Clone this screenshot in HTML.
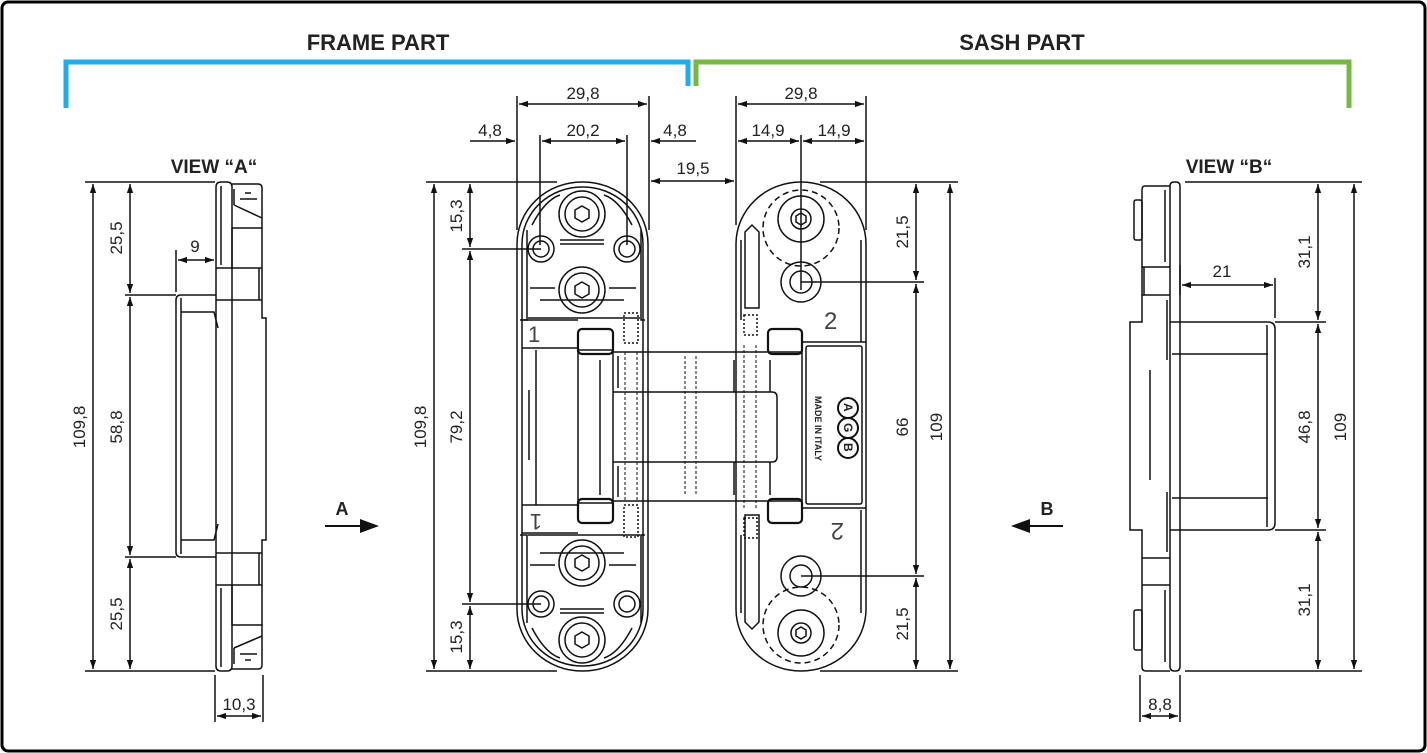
<!DOCTYPE html>
<html><head><meta charset="utf-8"><style>
html,body{margin:0;padding:0;background:#fff}
svg{display:block}
text{font-family:"Liberation Sans",Arial,sans-serif;fill:#222}
</style></head><body>
<svg width="1427" height="753" viewBox="0 0 1427 753" xmlns="http://www.w3.org/2000/svg">
<defs>
<marker id="a" viewBox="0 0 10 10" refX="10" refY="5" markerWidth="9" markerHeight="9" markerUnits="userSpaceOnUse" orient="auto-start-reverse"><path d="M0,1.5L10,5L0,8.5z" fill="#111"/></marker>
</defs>
<rect x="2" y="2" width="1423" height="749" rx="6" fill="#fff" stroke="#000" stroke-width="3"/>

<path d="M66,108V62H688V86" fill="none" stroke="#1eaee9" stroke-width="5"/>
<path d="M696,86V62H1349V108" fill="none" stroke="#76b843" stroke-width="5"/>
<text x="378" y="50" font-size="22" font-weight="bold" text-anchor="middle">FRAME PART</text>
<text x="1022" y="50" font-size="22" font-weight="bold" text-anchor="middle">SASH PART</text>

<g stroke="#111" stroke-width="1.5" fill="none">
<!-- VIEW A -->
<line x1="85" y1="182" x2="215" y2="182"/>
<line x1="85" y1="671" x2="215" y2="671"/>
<line x1="125" y1="295" x2="176" y2="295"/>
<line x1="125" y1="557" x2="176" y2="557"/>
<line x1="93" y1="184" x2="93" y2="669" marker-start="url(#a)" marker-end="url(#a)"/>
<line x1="130" y1="184" x2="130" y2="293" marker-start="url(#a)" marker-end="url(#a)"/>
<line x1="130" y1="297" x2="130" y2="555" marker-start="url(#a)" marker-end="url(#a)"/>
<line x1="130" y1="559" x2="130" y2="669" marker-start="url(#a)" marker-end="url(#a)"/>
<line x1="176" y1="250" x2="176" y2="292"/>
<line x1="178" y1="260" x2="214" y2="260" marker-start="url(#a)" marker-end="url(#a)"/>
<line x1="215" y1="675" x2="215" y2="722"/>
<line x1="263" y1="675" x2="263" y2="722"/>
<line x1="217" y1="716" x2="261" y2="716" marker-start="url(#a)" marker-end="url(#a)"/>
<path d="M216,187Q216,182 221,182H227Q232,182 232,187V666Q232,671 227,671H221Q216,671 216,666Z"/>
<line x1="221" y1="186" x2="221" y2="265"/><line x1="221" y1="588" x2="221" y2="667"/>
<path d="M232,184H258Q262,184 262,188V228H232"/>
<line x1="234" y1="189" x2="234" y2="205"/><path d="M234,205L262,218"/><line x1="240" y1="199" x2="257" y2="199"/><line x1="245" y1="193" x2="251" y2="193"/>
<line x1="232" y1="228" x2="232" y2="268"/><line x1="262" y1="228" x2="262" y2="268"/>
<path d="M216,268H262V318H266V540H262V585H216"/>
<line x1="216" y1="300" x2="262" y2="300"/><line x1="216" y1="553" x2="262" y2="553"/>
<line x1="259" y1="268" x2="259" y2="300"/><line x1="259" y1="553" x2="259" y2="585"/>
<path d="M232,625H262V665Q262,669 258,669H232"/><line x1="232" y1="585" x2="232" y2="625"/><line x1="262" y1="585" x2="262" y2="625"/>
<line x1="234" y1="648" x2="234" y2="664"/><path d="M234,648L262,636"/><line x1="240" y1="654" x2="257" y2="654"/><line x1="245" y1="660" x2="251" y2="660"/>
<path d="M216,295H181Q176,295 176,300V552Q176,557 181,557H216"/>
<line x1="181" y1="298" x2="181" y2="554"/>
<path d="M181,312H214L218,328"/><path d="M181,540H214L218,524"/>

<!-- FRAME HINGE dims -->
<line x1="517" y1="96" x2="517" y2="230"/>
<line x1="649" y1="96" x2="649" y2="230"/>
<line x1="540" y1="135" x2="540" y2="245"/>
<line x1="627" y1="135" x2="627" y2="245"/>
<line x1="519" y1="104" x2="647" y2="104" marker-start="url(#a)" marker-end="url(#a)"/>
<line x1="470" y1="141" x2="515" y2="141" marker-end="url(#a)"/>
<line x1="542" y1="141" x2="625" y2="141" marker-start="url(#a)" marker-end="url(#a)"/>
<line x1="696" y1="141" x2="651" y2="141" marker-end="url(#a)"/>
<line x1="651" y1="181" x2="734" y2="181" marker-start="url(#a)" marker-end="url(#a)"/>
<line x1="736" y1="96" x2="736" y2="225"/>
<line x1="866" y1="96" x2="866" y2="230"/>
<line x1="801" y1="135" x2="801" y2="290"/>
<line x1="738" y1="104" x2="864" y2="104" marker-start="url(#a)" marker-end="url(#a)"/>
<line x1="738" y1="141" x2="799" y2="141" marker-start="url(#a)" marker-end="url(#a)"/>
<line x1="803" y1="141" x2="864" y2="141" marker-start="url(#a)" marker-end="url(#a)"/>
<line x1="426" y1="182" x2="557" y2="182"/>
<line x1="426" y1="671" x2="557" y2="671"/>
<line x1="462" y1="249" x2="541" y2="249"/>
<line x1="462" y1="604" x2="541" y2="604"/>
<line x1="434" y1="184" x2="434" y2="669" marker-start="url(#a)" marker-end="url(#a)"/>
<line x1="470" y1="184" x2="470" y2="247" marker-start="url(#a)" marker-end="url(#a)"/>
<line x1="470" y1="251" x2="470" y2="602" marker-start="url(#a)" marker-end="url(#a)"/>
<line x1="470" y1="606" x2="470" y2="669" marker-start="url(#a)" marker-end="url(#a)"/>
<line x1="820" y1="182" x2="958" y2="182"/>
<line x1="820" y1="671" x2="958" y2="671"/>
<line x1="801" y1="282" x2="924" y2="282"/>
<line x1="801" y1="576" x2="924" y2="576"/>
<line x1="916" y1="184" x2="916" y2="280" marker-start="url(#a)" marker-end="url(#a)"/>
<line x1="916" y1="284" x2="916" y2="574" marker-start="url(#a)" marker-end="url(#a)"/>
<line x1="916" y1="578" x2="916" y2="669" marker-start="url(#a)" marker-end="url(#a)"/>
<line x1="950" y1="184" x2="950" y2="669" marker-start="url(#a)" marker-end="url(#a)"/>

<!-- frame hinge body -->
<rect x="517" y="182" width="131" height="489" rx="65" ry="62"/>
<rect x="522" y="187" width="121" height="479" rx="60" ry="57"/>
<path d="M527,230V320H520M641,230V320H645"/>
<path d="M527,623V535H520M641,623V535H645"/>
<path d="M532,225Q545,200 560,195M632,225Q619,200 604,195"/>
<path d="M532,628Q545,653 560,658M632,628Q619,653 604,658"/>
<circle cx="541" cy="249" r="13"/><circle cx="541" cy="249" r="8"/>
<circle cx="627" cy="249" r="13"/><circle cx="627" cy="249" r="8"/>
<circle cx="541" cy="604" r="13"/><circle cx="541" cy="604" r="8"/>
<circle cx="627" cy="604" r="13"/><circle cx="627" cy="604" r="8"/>
<circle cx="582" cy="214" r="23"/><circle cx="582" cy="214" r="17"/><path d="M582,206l7,4v8l-7,4l-7,-4v-8z"/>
<circle cx="582" cy="290" r="23"/><circle cx="582" cy="290" r="17"/><path d="M582,282l7,4v8l-7,4l-7,-4v-8z"/>
<circle cx="582" cy="563" r="23"/><circle cx="582" cy="563" r="17"/><path d="M582,555l7,4v8l-7,4l-7,-4v-8z"/>
<circle cx="582" cy="640" r="23"/><circle cx="582" cy="640" r="17"/><path d="M582,632l7,4v8l-7,4l-7,-4v-8z"/>
<path d="M560,240H604M560,244H604M530,288H555M609,288H636M540,300H624M528,318H640"/>
<path d="M560,613H604M560,609H604M530,565H555M609,565H636M540,553H624M528,535H640"/>
<path d="M522,320H578M522,348H578M522,505H578M522,533H578"/>
<line x1="536" y1="350" x2="536" y2="505"/><line x1="529" y1="390" x2="529" y2="460"/>
<rect x="624" y="313" width="14" height="30" stroke-dasharray="2,2"/>
<rect x="624" y="505" width="14" height="32" stroke-dasharray="2,2"/>

<!-- central link -->
<rect x="578" y="329" width="35" height="25" rx="4" stroke-width="2.2"/>
<rect x="578" y="499" width="35" height="24" rx="4" stroke-width="2.2"/>
<rect x="578" y="350" width="35" height="153"/>
<line x1="600" y1="360" x2="600" y2="495"/>
<path d="M613,352H802V501H613"/>
<path d="M613,392H772Q777,392 777,397V457Q777,462 772,462H613"/>
<path d="M618,356V388M618,466V497"/>
<g stroke-dasharray="3,2" stroke-width="1">
<line x1="625" y1="352" x2="625" y2="501"/><line x1="637" y1="352" x2="637" y2="501"/>
<line x1="685" y1="356" x2="685" y2="495"/><line x1="696" y1="356" x2="696" y2="495"/>
<line x1="744" y1="345" x2="744" y2="510"/><line x1="756" y1="345" x2="756" y2="510"/>
</g>
<line x1="734" y1="360" x2="734" y2="392"/><line x1="734" y1="462" x2="734" y2="495"/>
<line x1="770" y1="360" x2="770" y2="392"/><line x1="770" y1="462" x2="770" y2="495"/>
<rect x="768" y="329" width="34" height="25" rx="4" stroke-width="2.2"/>
<rect x="768" y="499" width="34" height="24" rx="4" stroke-width="2.2"/>

<!-- sash hinge body -->
<rect x="736" y="182" width="130" height="489" rx="65" ry="62"/>
<path d="M741,240V320M861,240V342M741,535V613M861,510V613"/>
<path d="M802,342H866M802,508H866"/>
<rect x="806" y="346" width="56" height="158" rx="2"/>
<circle cx="801" cy="219" r="23"/><circle cx="801" cy="219" r="10"/><path d="M801,213l5,3v6l-5,3l-5,-3v-6z"/>
<circle cx="801" cy="228" r="38" stroke-dasharray="6,4"/>
<circle cx="801" cy="282" r="20"/><circle cx="801" cy="282" r="11"/>
<circle cx="801" cy="576" r="20"/><circle cx="801" cy="576" r="11"/>
<circle cx="801" cy="633" r="23"/><circle cx="801" cy="633" r="10"/><path d="M801,627l5,3v6l-5,3l-5,-3v-6z"/>
<circle cx="801" cy="625" r="38" stroke-dasharray="6,4"/>
<path d="M745,232L752,225L759,232V308H745Z"/>
<path d="M745,622L752,629L759,622V515H745Z"/>
<rect x="744" y="315" width="13" height="20" stroke-dasharray="2,2"/>
<rect x="744" y="518" width="13" height="20" stroke-dasharray="2,2"/>
<circle cx="848" cy="408" r="10" stroke-width="2"/><circle cx="848" cy="428" r="10" stroke-width="2"/><circle cx="848" cy="448" r="10" stroke-width="2"/>
</g>
<text x="528" y="342" font-size="22" style="fill:#444">1</text>
<text x="0" y="0" font-size="22" transform="translate(542,514) rotate(180)" style="fill:#444">1</text>
<text x="0" y="0" font-size="9" font-weight="bold" transform="translate(815,396) rotate(90)">MADE IN ITALY</text>
<text x="0" y="0" font-size="12" font-weight="bold" transform="translate(844,403) rotate(90)">A</text>
<text x="0" y="0" font-size="12" font-weight="bold" transform="translate(844,423) rotate(90)">G</text>
<text x="0" y="0" font-size="12" font-weight="bold" transform="translate(844,443) rotate(90)">B</text>
<text x="824" y="329" font-size="24" style="fill:#444">2</text>
<text x="0" y="0" font-size="24" transform="translate(844,523) rotate(180)" style="fill:#444">2</text>

<!-- VIEW B -->
<g stroke="#111" stroke-width="1.5" fill="none">
<line x1="1185" y1="182" x2="1362" y2="182"/>
<line x1="1185" y1="671" x2="1362" y2="671"/>
<line x1="1275" y1="322" x2="1326" y2="322"/>
<line x1="1275" y1="530" x2="1326" y2="530"/>
<line x1="1318" y1="184" x2="1318" y2="320" marker-start="url(#a)" marker-end="url(#a)"/>
<line x1="1318" y1="324" x2="1318" y2="528" marker-start="url(#a)" marker-end="url(#a)"/>
<line x1="1318" y1="532" x2="1318" y2="669" marker-start="url(#a)" marker-end="url(#a)"/>
<line x1="1354" y1="184" x2="1354" y2="669" marker-start="url(#a)" marker-end="url(#a)"/>
<line x1="1180" y1="265" x2="1180" y2="295"/>
<line x1="1275" y1="278" x2="1275" y2="318"/>
<line x1="1182" y1="285" x2="1273" y2="285" marker-start="url(#a)" marker-end="url(#a)"/>
<line x1="1140" y1="675" x2="1140" y2="722"/>
<line x1="1180" y1="675" x2="1180" y2="722"/>
<line x1="1142" y1="716" x2="1178" y2="716" marker-start="url(#a)" marker-end="url(#a)"/>
<path d="M1170,186Q1170,182 1174,182H1176Q1180,182 1180,186V666Q1180,671 1176,671H1174Q1170,671 1170,666Z"/>
<path d="M1170,186H1145Q1142,186 1142,190V267H1170"/>
<line x1="1165" y1="190" x2="1165" y2="262"/>
<rect x="1134" y="200" width="8" height="40" rx="2"/>
<path d="M1142,267V295H1170"/><line x1="1144" y1="267" x2="1144" y2="295"/>
<path d="M1142,295V322H1130V530H1142V558"/>
<line x1="1167" y1="300" x2="1167" y2="360"/><line x1="1167" y1="492" x2="1167" y2="552"/>
<line x1="1150" y1="370" x2="1150" y2="480"/>
<path d="M1142,558H1170M1142,585V667Q1142,671 1146,671H1170M1142,558V585H1170"/>
<line x1="1165" y1="590" x2="1165" y2="662"/>
<rect x="1134" y="610" width="8" height="40" rx="2"/>
<path d="M1170,322H1268Q1275,322 1275,329V523Q1275,530 1268,530H1170"/>
<line x1="1267" y1="325" x2="1267" y2="527"/>
<line x1="1172" y1="354" x2="1268" y2="354"/><line x1="1172" y1="498" x2="1268" y2="498"/>
</g>

<line x1="325" y1="526" x2="362" y2="526" stroke="#111" stroke-width="2"/>
<path d="M360,519L379,526L360,533Z" fill="#111"/>
<text x="342" y="515" font-size="18" font-weight="bold" text-anchor="middle">A</text>
<line x1="1028" y1="526" x2="1063" y2="526" stroke="#111" stroke-width="2"/>
<path d="M1030,519L1011,526L1030,533Z" fill="#111"/>
<text x="1047" y="515" font-size="18" font-weight="bold" text-anchor="middle">B</text>

<g font-size="17">
<text x="214" y="173" font-size="19" font-weight="bold" text-anchor="middle">VIEW “A“</text>
<text x="1229" y="173" font-size="19" font-weight="bold" text-anchor="middle">VIEW “B“</text>
<text x="583" y="99" text-anchor="middle">29,8</text>
<text x="801" y="99" text-anchor="middle">29,8</text>
<text x="490" y="136" text-anchor="middle">4,8</text>
<text x="583" y="136" text-anchor="middle">20,2</text>
<text x="675" y="136" text-anchor="middle">4,8</text>
<text x="768" y="136" text-anchor="middle">14,9</text>
<text x="834" y="136" text-anchor="middle">14,9</text>
<text x="693" y="174" text-anchor="middle">19,5</text>
<text x="195" y="252" text-anchor="middle">9</text>
<text x="1222" y="277" text-anchor="middle">21</text>
<text x="239" y="710" text-anchor="middle">10,3</text>
<text x="1160" y="710" text-anchor="middle">8,8</text>
<text transform="translate(85,427) rotate(-90)" text-anchor="middle">109,8</text>
<text transform="translate(122,238) rotate(-90)" text-anchor="middle">25,5</text>
<text transform="translate(122,427) rotate(-90)" text-anchor="middle">58,8</text>
<text transform="translate(122,614) rotate(-90)" text-anchor="middle">25,5</text>
<text transform="translate(426,427) rotate(-90)" text-anchor="middle">109,8</text>
<text transform="translate(462,216) rotate(-90)" text-anchor="middle">15,3</text>
<text transform="translate(462,427) rotate(-90)" text-anchor="middle">79,2</text>
<text transform="translate(462,637) rotate(-90)" text-anchor="middle">15,3</text>
<text transform="translate(908,232) rotate(-90)" text-anchor="middle">21,5</text>
<text transform="translate(908,427) rotate(-90)" text-anchor="middle">66</text>
<text transform="translate(908,624) rotate(-90)" text-anchor="middle">21,5</text>
<text transform="translate(942,427) rotate(-90)" text-anchor="middle">109</text>
<text transform="translate(1310,252) rotate(-90)" text-anchor="middle">31,1</text>
<text transform="translate(1310,427) rotate(-90)" text-anchor="middle">46,8</text>
<text transform="translate(1310,600) rotate(-90)" text-anchor="middle">31,1</text>
<text transform="translate(1346,427) rotate(-90)" text-anchor="middle">109</text>
</g>
</svg>
</body></html>
